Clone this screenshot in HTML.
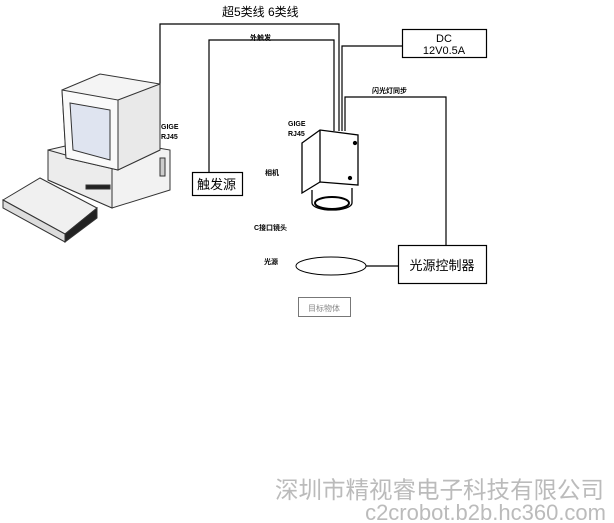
<!DOCTYPE html>
<html><head><meta charset="utf-8"><style>
html,body{margin:0;padding:0;background:#fff;width:614px;height:523px;overflow:hidden}
svg{display:block}
text{font-family:"Liberation Sans","Noto Sans CJK SC",sans-serif}
</style></head><body>
<svg width="614" height="523" viewBox="0 0 614 523" xmlns="http://www.w3.org/2000/svg">
<g fill="none" stroke="#000" stroke-width="1.2">
<polyline points="160,125 160,24 339,24 339,131"/>
<polyline points="209,172 209,40 334,40 334,131"/>
<polyline points="342,131 342,46 402,46"/>
<polyline points="345,131 345,97 446,97 446,245"/>
<line x1="366" y1="266" x2="398" y2="266"/>
<rect x="402.5" y="29.5" width="84" height="28"/>
<rect x="192.5" y="172.5" width="50" height="23"/>
<rect x="398.5" y="245.5" width="88" height="38"/>
<ellipse cx="331" cy="266" rx="35" ry="9" stroke-width="1"/>
</g>
<rect x="298.5" y="297.5" width="52" height="19" fill="none" stroke="#777"/>
<g stroke="#000" stroke-width="1.3" fill="#fff">
<polygon points="302,143 320,130 358,135 358,185 320,182 302,193"/>
<line x1="320" y1="130" x2="320" y2="182"/>
<path d="M312,190 L312,203 A20,7 0 0 0 352,203 L352,188" />
<ellipse cx="332" cy="203" rx="17" ry="6" stroke-width="2"/>
<circle cx="355" cy="143" r="1.5" fill="#000"/>
<circle cx="350" cy="178" r="1.5" fill="#000"/>
</g>
<g stroke="#333" stroke-width="1">
<polygon points="48,150 100,138 170,150 170,190 112,208 48,180" fill="#f2f2f2"/>
<polygon points="48,150 112,168 112,208 48,180" fill="#ececec"/>
<polygon points="62,90 100,74 160,84 160,150 118,170 66,158" fill="#f4f4f4"/>
<polygon points="62,90 118,100 118,170 66,158" fill="#fafafa"/>
<polygon points="70,103 110,110 110,160 73,150" fill="#dfe4f0"/>
<polygon points="118,100 160,84 160,150 118,170" fill="#e9e9e9"/>
<rect x="86" y="185" width="24" height="4" fill="#222"/>
<rect x="160" y="158" width="5" height="18" fill="#ccc"/>
<polygon points="3,200 40,178 97,208 65,234" fill="#f0f0f0"/>
<polygon points="3,200 65,234 65,242 3,208" fill="#ddd"/>
<polygon points="65,234 97,208 97,218 65,242" fill="#222"/>
</g>
<g font-size="11" fill="#000">
<text x="222" y="16" font-size="12">超5类线 6类线</text>
<text x="444" y="42" text-anchor="middle">DC</text>
<text x="444" y="54" text-anchor="middle">12V0.5A</text>
<text x="197" y="189" font-size="13">触发源</text>
<text x="442" y="270" font-size="13" text-anchor="middle">光源控制器</text>
<text x="324" y="311" font-size="8" fill="#888" text-anchor="middle">目标物体</text>
</g>
<g font-size="7" font-weight="bold" fill="#000">
<text x="250" y="40">外触发</text>
<text x="372" y="93">闪光灯同步</text>
<text x="161" y="129">GIGE</text><text x="161" y="139">RJ45</text>
<text x="288" y="126">GIGE</text><text x="288" y="136">RJ45</text>
<text x="265" y="175">相机</text>
<text x="254" y="230">C接口镜头</text>
<text x="264" y="264">光源</text>
</g>
<text x="275" y="498" font-size="23.5" fill="#bbb">深圳市精视睿电子科技有限公司</text>
<text x="606" y="520" font-size="22" fill="#bbb" text-anchor="end">c2crobot.b2b.hc360.com</text>
</svg>
</body></html>
